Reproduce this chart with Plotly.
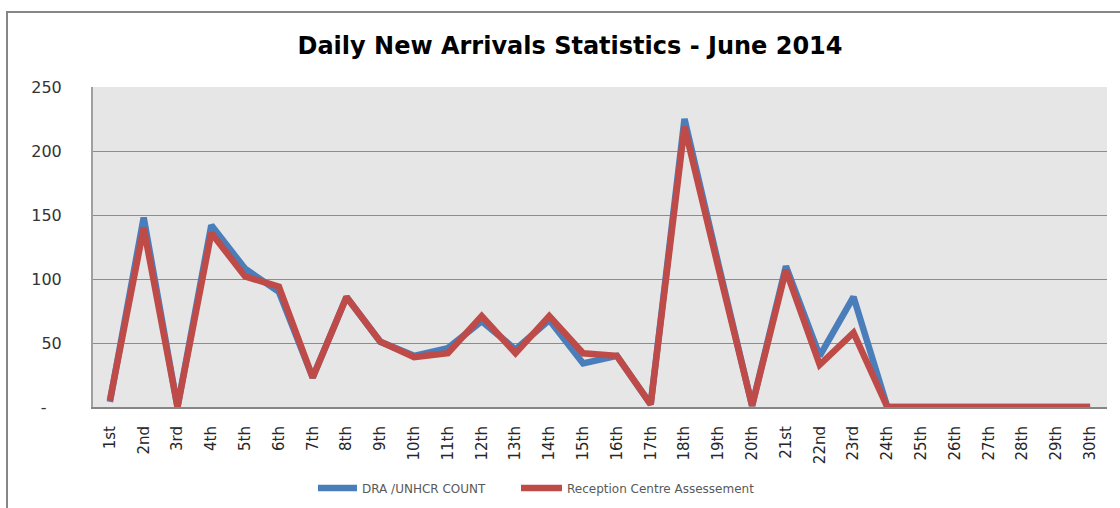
import plotly.graph_objects as go

days = ["1st", "2nd", "3rd", "4th", "5th", "6th", "7th", "8th", "9th", "10th",
        "11th", "12th", "13th", "14th", "15th", "16th", "17th", "18th", "19th", "20th",
        "21st", "22nd", "23rd", "24th", "25th", "26th", "27th", "28th", "29th", "30th"]

dra_unhcr = [4, 148, 0, 142, 108, 90, 23, 86, 51, 40,
             46, 67, 45, 68, 34, 40, 2, 225, 112, 1,
             110, 40, 86, 0, 0, 0, 0, 0, 0, 0]

reception = [5, 140, 0, 136, 102, 94, 23, 86, 51, 39,
             42, 71, 42, 71, 42, 40, 2, 219, 109, 1,
             107, 33, 58, 0, 0, 0, 0, 0, 0, 0]

y_tick_vals = [0, 50, 100, 150, 200, 250]
y_tick_text = ["-\u00a0\u00a0\u00a0", "50", "100", "150", "200", "250"]

title_text = "Daily New Arrivals Statistics - June 2014"
series_names = ["DRA /UNHCR COUNT", "Reception Centre Assessement"]

W, H = 1120, 508
L, R, T, B = 93, 13, 87, 101
pw, ph = W - L - R, H - T - B

def px_x(p):
    return (p - L) / pw

def px_y(p):
    return (H - B - p) / ph

legend_font = dict(family="DejaVu Sans", size=12, color="#595959")

fig = go.Figure()
fig.add_trace(go.Scatter(x=days, y=dra_unhcr, mode="lines", name=series_names[0],
                         line=dict(color="#4A7EBB", width=6.5), legend="legend"))
fig.add_trace(go.Scatter(x=days, y=reception, mode="lines", name=series_names[1],
                         line=dict(color="#BE4B48", width=6.5), legend="legend2"))

fig.update_layout(
    width=W, height=H,
    margin=dict(l=L, r=R, t=T, b=B, autoexpand=False),
    paper_bgcolor="white",
    plot_bgcolor="#E6E6E6",
    title=dict(text=title_text, x=570 / W, xanchor="center", y=1 - 46 / H, yanchor="middle",
               font=dict(family="DejaVu Sans", size=24, color="#000000", weight="bold")),
    showlegend=True,
    legend=dict(orientation="h", x=px_x(313), xanchor="left", y=px_y(488), yanchor="middle",
                font=legend_font, bgcolor="rgba(0,0,0,0)", itemwidth=39),
    legend2=dict(orientation="h", x=px_x(516), xanchor="left", y=px_y(488), yanchor="middle",
                 font=legend_font, bgcolor="rgba(0,0,0,0)", itemwidth=41),
    xaxis=dict(type="category", range=[-0.5, 29.5], tickangle=-90, showgrid=False,
               showline=True, linecolor="#868686", linewidth=2, automargin=False,
               ticks="", ticklabelstandoff=11,
               tickfont=dict(family="DejaVu Sans", size=15, color="#262626")),
    yaxis=dict(range=[0, 250], tickvals=y_tick_vals, ticktext=y_tick_text,
               showgrid=True, gridcolor="#8C8C8C", gridwidth=1, automargin=False,
               showline=True, linecolor="#A0A0A0", linewidth=2, zeroline=False,
               ticks="", ticklabelstandoff=26,
               tickfont=dict(family="DejaVu Sans", size=16, color="#333333")),
    shapes=[dict(type="rect", xref="paper", yref="paper",
                 x0=px_x(7), x1=px_x(1130), y0=px_y(520), y1=px_y(12),
                 line=dict(color="#868686", width=2), fillcolor="rgba(0,0,0,0)", layer="below")],
)

fig.write_html("out.html", config={"displayModeBar": False},
               post_script="document.body.style.margin='0px';document.body.style.overflow='hidden';")
